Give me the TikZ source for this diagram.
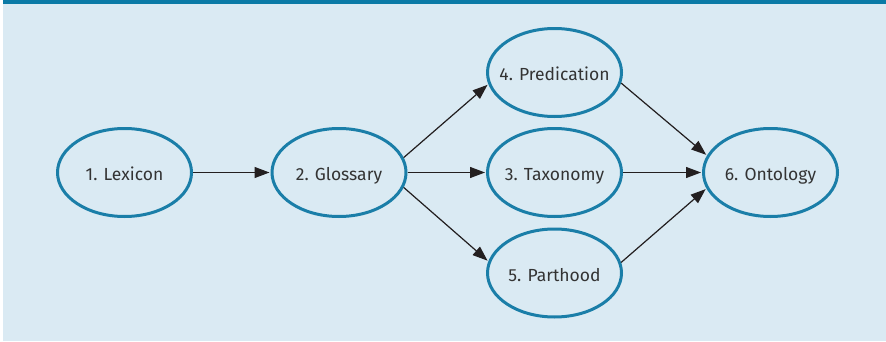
\documentclass[tikz,border=0pt]{standalone}
\usepackage{fontspec}
\setmainfont{Fira Sans}
\usetikzlibrary{shapes.geometric,arrows.meta}
\definecolor{bgblue}{HTML}{DAEAF3}
\definecolor{barblue}{HTML}{0A7AA6}
\definecolor{ringblue}{HTML}{1A7EA8}
\definecolor{inkgray}{HTML}{333333}
\definecolor{arrowink}{HTML}{231F20}
\begin{document}
\begin{tikzpicture}[x=1pt,y=1pt,>={Triangle[length=15pt,width=11pt]},line join=round,font=\fontsize{17.5}{20}\selectfont,
stage/.style={ellipse,draw=ringblue,line width=3pt,minimum width=134pt,minimum height=88pt,inner xsep=-20pt,inner ysep=0pt,text height=16.5pt,text depth=0pt,text=inkgray},
link/.style={->,draw=arrowink,fill=arrowink,line width=1.2pt,shorten >=1pt}]
\useasboundingbox (0,0) rectangle (886,341);
\fill[bgblue] (3,0) rectangle (886,337);
\fill[barblue] (3,337) rectangle (886,341);
\path
(124.5,168.5) node[stage] (lex) {1. Lexicon}
(339,168.5) node[stage] (glos) {2. Glossary}
(554.5,268.5) node[stage] (pred) {4. Predication}
(554.5,168.5) node[stage] (tax) {3. Taxonomy}
(554.5,68) node[stage] (part) {5. Parthood}
(770.5,168.5) node[stage] (onto) {6. Ontology}
;
\draw[link] (lex)--(glos);
\draw[link] (glos.13)--(pred.190);
\draw[link] (glos)--(tax);
\draw[link] (glos.-13)--(part.170);
\draw[link] (pred.-9)--(onto.165);
\draw[link] (tax)--(onto);
\draw[link] (part.9)--(onto.194);
\end{tikzpicture}
\end{document}
